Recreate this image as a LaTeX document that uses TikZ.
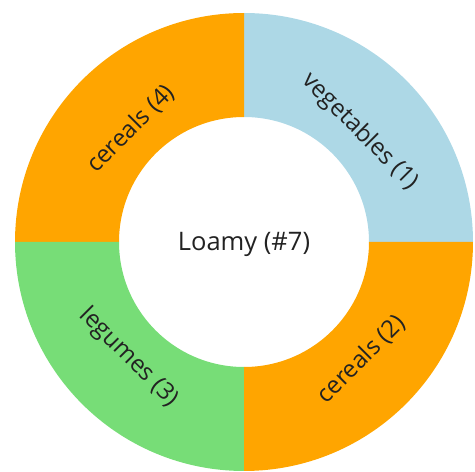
\documentclass[tikz,border=0pt]{standalone}
\usepackage{fontspec}
\setmainfont{Open Sans}
\definecolor{segorange}{HTML}{FFA500}
\definecolor{segblue}{HTML}{ADD8E6}
\definecolor{seggreen}{HTML}{77DD77}
\definecolor{txt}{HTML}{222222}
\tikzset{
  seg/.style={draw=none},
  lbl/.style={text=txt, font=\fontsize{24}{28}\selectfont, inner sep=0pt},
  ctr/.style={text=txt, font=\fontsize{25.5}{30}\selectfont, inner sep=0pt}
}
\begin{document}
\begin{tikzpicture}[x=1pt,y=1pt]
\useasboundingbox (0,0) rectangle (475,472);
\coordinate (C) at (244,230);
\def\Ro{229}
\def\Ri{125}
% upper right: vegetables
\fill[segblue] ([shift={(0:\Ro)}]C) arc (0:90:\Ro) -- ([shift={(90:\Ri)}]C) arc (90:0:\Ri) -- cycle;
% upper left: cereals (4)
\fill[segorange] ([shift={(90:\Ro)}]C) arc (90:180:\Ro) -- ([shift={(180:\Ri)}]C) arc (180:90:\Ri) -- cycle;
% lower left: legumes
\fill[seggreen] ([shift={(180:\Ro)}]C) arc (180:270:\Ro) -- ([shift={(270:\Ri)}]C) arc (270:180:\Ri) -- cycle;
% lower right: cereals (2)
\fill[segorange] ([shift={(270:\Ro)}]C) arc (270:360:\Ro) -- ([shift={(360:\Ri)}]C) arc (360:270:\Ri) -- cycle;
\node[lbl, rotate=-45] (veg) at ([shift={(43.5:160)}]C) {vegetables (1)};
\node[lbl, rotate=45] (cer4) at ([shift={(135:160)}]C) {cereals (4)};
\node[lbl, rotate=-45] (leg) at ([shift={(225:163)}]C) {legumes (3)};
\node[lbl, rotate=45] (cer2) at ([shift={(315:166)}]C) {cereals (2)};
\node[ctr] (center) at ([yshift=-2]C) {Loamy (\#7)};
\end{tikzpicture}
\end{document}
